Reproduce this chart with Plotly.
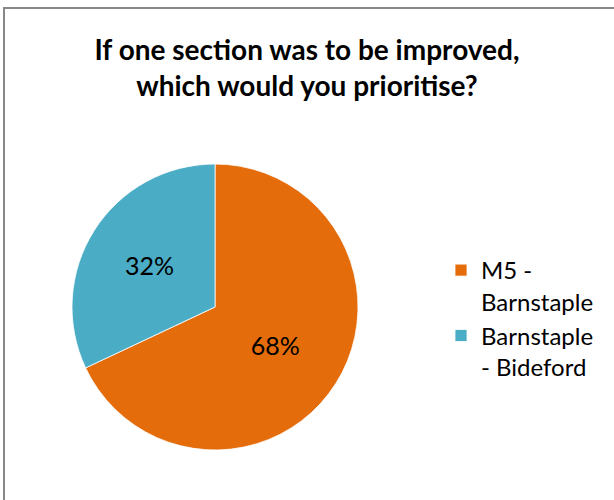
import plotly.graph_objects as go

labels = ["M5 -<br>Barnstaple", "Barnstaple<br>- Bideford"]
values = [68, 32]
colors = ["#E46C0A", "#4BACC6"]
title_text = "<b>If one section was to be improved,<br>which would you prioritise?</b>"

W, H = 614, 500
cx, cy, r = 215, 307, 143

fig = go.Figure(
    go.Pie(
        labels=labels,
        values=values,
        sort=False,
        direction="clockwise",
        rotation=0,
        marker=dict(colors=colors, line=dict(color="white", width=0.8)),
        textinfo="percent",
        texttemplate="%{percent:.0%}",
        textposition="inside",
        insidetextorientation="horizontal",
        insidetextfont=dict(family="Lato", size=25, color="black"),
        domain=dict(x=[(cx - r) / W, (cx + r) / W], y=[(H - cy - r) / H, (H - cy + r) / H]),
        hoverinfo="label+percent",
    )
)

fig.update_layout(
    width=W,
    height=H,
    margin=dict(l=0, r=0, t=0, b=0),
    paper_bgcolor="white",
    plot_bgcolor="white",
    title=dict(
        text=title_text,
        x=0.5,
        xanchor="center",
        y=1 - 60 / H,
        yanchor="top",
        yref="container",
        font=dict(family="Lato", size=28, color="black"),
    ),
    legend=dict(
        x=441 / W,
        xanchor="left",
        y=1 - 248 / H,
        yanchor="top",
        font=dict(family="Lato", size=24, color="black"),
        valign="top",
        bgcolor="rgba(0,0,0,0)",
    ),
    shapes=[
        dict(
            type="rect",
            xref="paper",
            yref="paper",
            x0=4 / W,
            x1=1.05,
            y0=-0.05,
            y1=1 - 8 / H,
            line=dict(color="#888888", width=2),
            fillcolor="rgba(0,0,0,0)",
        )
    ],
)

fig.write_html(
    "out.html",
    config={"displayModeBar": False},
    post_script="document.body.style.margin='0';",
)
